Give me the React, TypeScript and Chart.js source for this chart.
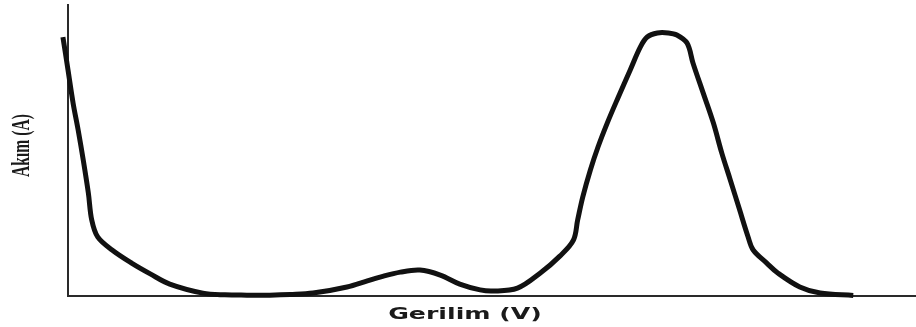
import React, { useEffect, useRef } from 'react';
import { Chart, registerables, LinearScale } from 'chart.js';

// ---- data ----
const voltage = [
  -0.6, 0.0, 0.6, 1.2, 1.8, 2.4, 2.8, 3.5, 5.2, 7.5, 9.7, 12.0,
  15.9, 18.5, 21.1, 23.8, 26.2, 28.9, 32.9, 35.3, 36.8, 39.2, 41.5, 43.9, 46.2,
  48.6, 50.1, 53.0, 55.7, 58.0, 59.6, 60.1, 60.7, 61.6, 62.5, 63.6, 64.9, 66.3,
  67.5, 68.3, 69.5, 70.8, 71.8, 73.0, 73.7, 74.9, 76.1, 77.1, 78.1, 79.2, 80.2,
  80.8, 82.4, 83.7, 86.3, 88.7, 92.6,
];
const current = [
  89.0, 77.7, 66.3, 57.0, 46.7, 35.4, 26.1, 20.3, 15.8, 11.3, 7.6, 4.1,
  1.0, 0.4, 0.3, 0.3, 0.5, 1.0, 3.1, 5.2, 6.5, 8.2, 8.9, 7.2, 4.1,
  2.1, 1.7, 2.7, 7.9, 13.7, 19.2, 26.1, 34.0, 43.3, 51.2, 59.5, 68.4, 77.7,
  85.6, 89.0, 90.4, 90.4, 89.7, 86.9, 80.1, 69.8, 59.5, 49.1, 39.9, 29.6, 20.3,
  15.8, 11.3, 7.9, 3.1, 1.0, 0.2,
];
const xAxisTitle = 'Gerilim (V)';
const yAxisTitle = 'Akım (A)';
const xRange = [0, 100];
const yRange = [0, 100];

// ---- style tweaks for the axis titles (stretch / shift) ----
const TITLE_TWEAKS: Record<string, { sx: number; sy: number; dx: number; dy: number }> = {
  x: { sx: 1.68, sy: 1, dx: -27, dy: 0 },
  y: { sx: 1, sy: 0.6, dx: 0, dy: -5 },
};

class StretchedTitleScale extends LinearScale {
  static id = 'stretchedLinear';
  drawTitle() {
    const opts: any = this.options;
    if (!opts.title || !opts.title.display) return;
    const t = TITLE_TWEAKS[this.axis] || { sx: 1, sy: 1, dx: 0, dy: 0 };
    const ctx = this.ctx;
    let cx: number, cy: number;
    if (this.isHorizontal()) {
      cx = (this.left + this.right) / 2;
      cy = this.bottom;
    } else {
      cx = this.left;
      cy = (this.top + this.bottom) / 2;
    }
    ctx.save();
    ctx.translate(cx + t.dx, cy + t.dy);
    ctx.scale(t.sx, t.sy);
    ctx.translate(-cx, -cy);
    super.drawTitle();
    ctx.restore();
  }
}

Chart.register(...registerables, StretchedTitleScale);

export default function App() {
  const canvasRef = useRef<HTMLCanvasElement | null>(null);

  useEffect(() => {
    if (!canvasRef.current) return;
    const points = voltage.map((v, i) => ({ x: v, y: current[i] }));
    const chart = new Chart(canvasRef.current, {
      type: 'line',
      data: {
        datasets: [
          {
            data: points,
            borderColor: '#111111',
            borderWidth: 5,
            pointRadius: 0,
            fill: false,
            tension: 0.35,
            borderJoinStyle: 'round',
            borderCapStyle: 'butt',
            clip: false as any,
          },
        ],
      },
      options: {
        animation: false,
        responsive: true,
        maintainAspectRatio: false,
        layout: { padding: { top: 5, left: 0, right: 0, bottom: 0 } },
        plugins: {
          legend: { display: false },
          tooltip: { enabled: false },
        },
        scales: {
          x: {
            type: 'stretchedLinear' as any,
            min: xRange[0],
            max: xRange[1],
            grid: { display: false },
            ticks: { display: false },
            border: { display: true, color: '#2a2a2a', width: 2 },
            title: {
              display: true,
              text: xAxisTitle,
              color: '#1a1a1a',
              font: { family: 'DejaVu Sans', size: 15, weight: 'bold' },
              padding: { top: 0, bottom: 3 },
            },
            afterFit: (scale: any) => {
              scale.height = 31;
            },
          },
          y: {
            type: 'stretchedLinear' as any,
            min: yRange[0],
            max: yRange[1],
            grid: { display: false },
            ticks: { display: false },
            border: { display: true, color: '#2a2a2a', width: 2 },
            title: {
              display: true,
              text: yAxisTitle,
              color: '#1a1a1a',
              font: { family: 'Liberation Serif', size: 26, weight: 'bold' },
              padding: { top: 7, bottom: 0 },
            },
            afterFit: (scale: any) => {
              scale.width = 68;
            },
          },
        },
      } as any,
    });
    return () => chart.destroy();
  }, []);

  return (
    <div style={{ position: 'fixed', left: 0, top: 0, width: 916, height: 327, background: '#fff' }}>
      <canvas ref={canvasRef} />
    </div>
  );
}
